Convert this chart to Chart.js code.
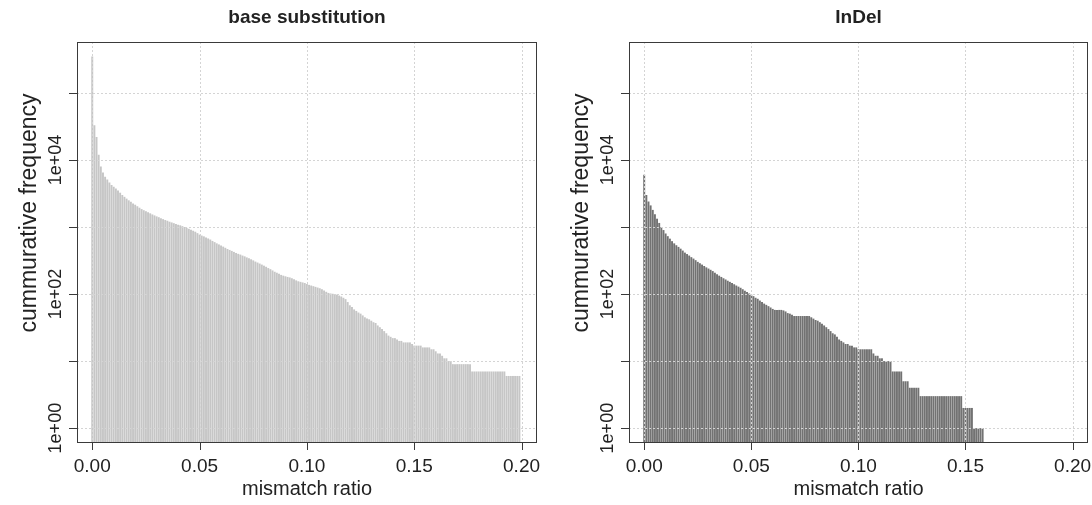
<!DOCTYPE html>
<html lang="en">
<head>
    <meta charset="UTF-8">
    <title>mismatch ratio</title>
    <script src="https://cdn.jsdelivr.net/npm/chart.js"></script>
    <style>
        body {
            margin: 0;
            background: #fff;
        }
        canvas {
            position: absolute;
            top: 0;
        }
    </style>
</head>
<body>
    <canvas id="sub-chart" width="552" height="505" style="left:0"></canvas>
    <canvas id="indel-chart" width="540" height="505" style="left:552px"></canvas>

    <script>
        // bars are one per 0.001 of mismatch ratio, starting at 0.000
        const ratioStep = 0.001;

        // base substitution, cummurative frequency per ratio (0.000 .. 0.199)
        const subCounts = [
            350000, 33000, 22000, 12000, 8000, 6500, 5600, 5100, 4600, 4250,
            4000, 3750, 3500, 3250, 3000, 2820, 2650, 2500, 2380, 2250,
            2150, 2040, 1940, 1850, 1780, 1720, 1660, 1600, 1540, 1490,
            1440, 1400, 1350, 1310, 1270, 1240, 1200, 1170, 1140, 1110,
            1080, 1060, 1030, 1000, 970, 940, 910, 880, 850, 810,
            770, 745, 725, 700, 675, 650, 620, 595, 570, 550,
            530, 510, 490, 470, 455, 440, 425, 410, 398, 388,
            375, 365, 352, 342, 330, 318, 305, 295, 285, 275,
            265, 255, 244, 235, 225, 215, 208, 200, 193, 188,
            184, 180, 177, 172, 166, 160, 155, 152, 149, 146,
            141, 137, 134, 131, 128, 125, 122, 118, 113, 108,
            104, 102, 101, 100, 98, 95, 92, 88, 84, 76,
            68, 64, 59, 56, 53, 51, 48, 45, 43, 42,
            40, 38, 37, 34, 32, 30, 28, 26, 24, 23,
            22, 22, 21, 20, 20, 19, 19, 19, 19, 18,
            17, 17, 17, 17, 16, 16, 16, 16, 15, 15,
            14, 13, 13, 12, 11, 11, 10, 10, 9, 9,
            9, 9, 9, 9, 9, 9, 9, 7, 7, 7,
            7, 7, 7, 7, 7, 7, 7, 7, 7, 7,
            7, 7, 7, 6, 6, 6, 6, 6, 6, 6
        ];

        // InDel, cummurative frequency per ratio (0.000 .. 0.158)
        const indelCounts = [
            6000, 3000, 2400, 2100, 1800, 1550, 1330, 1150, 1000, 900,
            800, 730, 670, 615, 570, 535, 505, 475, 445, 415,
            395, 375, 355, 338, 320, 302, 288, 275, 262, 250,
            240, 230, 220, 208, 198, 188, 180, 172, 165, 158,
            152, 146, 140, 134, 129, 124, 118, 112, 107, 102,
            98, 93, 88, 85, 80, 76, 72, 69, 66, 63,
            60, 58, 58, 58, 58, 57, 55, 52, 51, 49,
            47, 47, 47, 47, 47, 47, 47, 47, 45, 43,
            41, 40, 38, 36, 34, 32, 30, 28, 26, 25,
            23, 21, 20, 19, 18, 18, 17, 17, 16, 16,
            15, 15, 15, 15, 15, 15, 15, 13, 12, 12,
            11, 11, 10, 10, 10, 10, 7, 7, 7, 7,
            7, 5, 5, 5, 4, 4, 4, 4, 4, 3,
            3, 3, 3, 3, 3, 3, 3, 3, 3, 3,
            3, 3, 3, 3, 3, 3, 3, 3, 3, 2,
            2, 2, 2, 2, 1, 1, 1, 1, 1
        ];

        // axes
        const xTicks = [0, 0.05, 0.10, 0.15, 0.20];
        const xTickLabels = ['0.00', '0.05', '0.10', '0.15', '0.20'];
        const yTicks = [1, 10, 100, 1000, 10000, 100000];
        const yTickLabels = ['1e+00', '', '1e+02', '', '1e+04', ''];

        const FONT = '"Liberation Sans", Arial, Helvetica, sans-serif';

        // R-like frame, dotted grid drawn over the bars, ticks and texts
        const rFrame = {
            id: 'rFrame',
            afterDatasetsDraw(chart, args, opts) {
                const a = chart.chartArea;
                const sx = chart.scales.x;
                const sy = chart.scales.y;
                const ctx = chart.ctx;
                ctx.save();

                // grid
                ctx.strokeStyle = '#d4d4d4';
                ctx.lineWidth = 1;
                ctx.setLineDash([2, 2]);
                ctx.beginPath();
                xTicks.forEach(v => {
                    const px = Math.round(sx.getPixelForValue(v)) + 0.5;
                    ctx.moveTo(px, a.top);
                    ctx.lineTo(px, a.bottom);
                });
                yTicks.forEach(v => {
                    const py = Math.round(sy.getPixelForValue(v)) + 0.5;
                    ctx.moveTo(a.left, py);
                    ctx.lineTo(a.right, py);
                });
                ctx.stroke();
                ctx.setLineDash([]);

                // box
                ctx.strokeStyle = '#3a3a3a';
                ctx.strokeRect(Math.round(a.left) + 0.5, Math.round(a.top) + 0.5,
                    Math.round(a.right - a.left) - 1, Math.round(a.bottom - a.top) - 1);

                // tick marks
                ctx.beginPath();
                xTicks.forEach(v => {
                    const px = Math.round(sx.getPixelForValue(v)) + 0.5;
                    ctx.moveTo(px, a.bottom);
                    ctx.lineTo(px, a.bottom + 7);
                });
                yTicks.forEach(v => {
                    const py = Math.round(sy.getPixelForValue(v)) + 0.5;
                    ctx.moveTo(a.left, py);
                    ctx.lineTo(a.left - 8, py);
                });
                ctx.stroke();

                ctx.fillStyle = '#222';
                ctx.textAlign = 'center';
                ctx.textBaseline = 'middle';

                // x tick labels
                ctx.font = '19px ' + FONT;
                xTicks.forEach((v, i) => {
                    ctx.fillText(xTickLabels[i], sx.getPixelForValue(v), 467);
                });

                // y tick labels, rotated like R
                ctx.font = '18px ' + FONT;
                yTicks.forEach((v, i) => {
                    if (!yTickLabels[i]) return;
                    ctx.save();
                    ctx.translate(a.left - 21, sy.getPixelForValue(v));
                    ctx.rotate(-Math.PI / 2);
                    ctx.fillText(yTickLabels[i], 0, 0);
                    ctx.restore();
                });

                // axis titles
                const cx = (a.left + a.right) / 2;
                ctx.font = '20px ' + FONT;
                ctx.fillText('mismatch ratio', cx, 489);

                ctx.save();
                ctx.translate(a.left - 47, 213);
                ctx.rotate(-Math.PI / 2);
                ctx.font = '23px ' + FONT;
                ctx.fillText('cummurative frequency', 0, 0);
                ctx.restore();

                // main title
                ctx.font = 'bold 19px ' + FONT;
                ctx.fillText(opts.title, cx, 18);

                ctx.restore();
            }
        };

        function makePanel(id, title, counts, color, padRight) {
            const points = counts.map((c, i) => ({ x: i * ratioStep, y: c }));
            return new Chart(document.getElementById(id), {
                type: 'bar',
                data: {
                    datasets: [{
                        data: points,
                        backgroundColor: color,
                        borderWidth: 0,
                        barPercentage: 0.9,
                        categoryPercentage: 1
                    }]
                },
                options: {
                    responsive: false,
                    animation: false,
                    devicePixelRatio: 1,
                    layout: {
                        padding: { left: 77, right: padRight, top: 42, bottom: 62 }
                    },
                    scales: {
                        x: { type: 'linear', display: false, offset: false, min: -0.0071, max: 0.2072 },
                        y: { type: 'logarithmic', display: false, min: 0.6, max: 575000 }
                    },
                    plugins: {
                        legend: { display: false },
                        tooltip: { enabled: false },
                        rFrame: { title: title }
                    }
                },
                plugins: [rFrame]
            });
        }

        makePanel('sub-chart', 'base substitution', subCounts, '#c6c6c6', 15);
        makePanel('indel-chart', 'InDel', indelCounts, '#727272', 4);
    </script>
</body>
</html>
